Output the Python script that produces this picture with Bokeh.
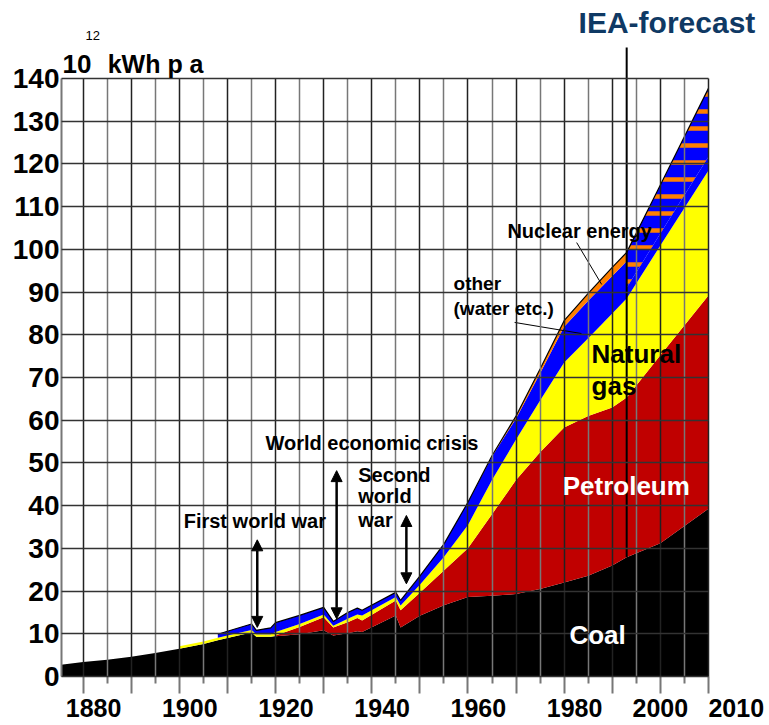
import numpy as np
from bokeh.plotting import figure
from bokeh.models import Range1d, FixedTicker, Label, Arrow, NormalHead
from bokeh.embed import file_html
from bokeh.resources import INLINE

# ---------------- data (10^12 kWh per year) ----------------
years = [1875, 1880, 1885, 1890, 1895, 1900, 1905, 1908, 1910, 1915, 1916, 1919,
         1920, 1925, 1930, 1932, 1935, 1937, 1938, 1945, 1946, 1950, 1955, 1960,
         1965, 1970, 1975, 1980, 1985, 1990, 1993, 2000, 2010]
coal = [2.7, 3.4, 3.9, 4.6, 5.5, 6.5, 7.6, 8.5, 9.0, 10.3, 9.3, 9.3,
        9.4, 9.9, 10.8, 9.6, 10.1, 10.6, 10.4, 14.3, 11.5, 14.2, 16.7, 18.6,
        18.9, 19.3, 20.5, 22.0, 23.6, 26.0, 27.9, 31.2, 39.3]
petroleum = [0, 0, 0, 0, 0, 0, 0, 0, 0, 0, 0, 0,
             0.2, 1.7, 3.1, 1.9, 2.6, 3.1, 2.7, 3.5, 4.0, 5.4, 8.1, 11.4,
             19.1, 26.7, 32.0, 36.3, 37.4, 37.0, 37.4, 44.0, 49.9]
natural_gas = [0, 0, 0, 0, 0, 0.6, 0.6, 0.6, 0.6, 0.6, 0.6, 0.6,
               0.8, 0.7, 0.6, 0.4, 0.8, 0.8, 1.2, 0.8, 1.1, 1.9, 3.2, 5.5,
               8.0, 9.5, 12.1, 15.2, 18.2, 22.0, 23.2, 25.7, 29.3]
# historical part (up to 1993)
other = [0, 0, 0, 0, 0, 0, 0, 0.8, 1.0, 1.4, 0.9, 1.5,
         2.2, 2.0, 1.7, 1.0, 1.5, 1.5, 1.2, 1.1, 1.2, 2.0, 3.0, 5.3,
         5.5, 4.9, 6.4, 8.4, 8.8, 8.8, 8.7]
nuclear = [0, 0, 0, 0, 0, 0, 0, 0, 0, 0, 0, 0,
           0, 0, 0, 0, 0, 0, 0, 0, 0, 0, 0, 0,
           0.2, 0.6, 1.0, 1.4, 1.7, 2.0, 2.1]
# IEA forecast part
forecast_years = [1993, 2000, 2010]
forecast_other = [2.5, 2.8, 3.2]
forecast_nuclear = [8.3, 11.4, 16.0]

gas_start, other_start, petroleum_start, nuclear_start = 1900, 1908, 1920, 1960
forecast_start = 1993

major_years = list(range(1880, 2011, 10))
minor_years = list(range(1885, 2010, 10))
labelled = [1880, 1900, 1920, 1940, 1960, 1980, 2000, 2010]
y_ticks = list(range(0, 141, 10))

FONT = "Liberation Sans"
C_COAL, C_PET, C_GAS, C_OTHER, C_NUC = "#000000", "#c00000", "#ffff00", "#0000ff", "#ff8000"

# ---------------- stacking ----------------
yr = np.array(years, dtype=float)
c0 = np.array(coal)
c1 = c0 + np.array(petroleum)
c2 = c1 + np.array(natural_gas)
nh = len(other)
hy = yr[:nh]
c3 = c2[:nh] + np.array(other)
c4 = c3 + np.array(nuclear)
fy = np.array(forecast_years, dtype=float)
fidx = [years.index(y) for y in forecast_years]
f2 = c2[fidx]
f3 = f2 + np.array(forecast_other)
f4 = f3 + np.array(forecast_nuclear)

X0, X1 = 1875.5, 2021.86
H = 724
p = figure(width=765, height=H, x_range=Range1d(X0, X1),
           y_range=Range1d(-(H - 676) / 4.271, 676 / 4.271),
           output_backend="svg", toolbar_location=None,
           min_border_left=61, min_border_right=0, min_border_top=0, min_border_bottom=0)
p.outline_line_color = None

# areas
p.varea(x=yr, y1=0, y2=c0, fill_color=C_COAL)
m = yr >= petroleum_start
p.varea(x=yr[m], y1=c0[m], y2=c1[m], fill_color=C_PET)
m = yr >= gas_start
p.varea(x=yr[m], y1=c1[m], y2=c2[m], fill_color=C_GAS)
m = hy >= other_start
p.varea(x=hy[m], y1=c2[:nh][m], y2=c3[m], fill_color=C_OTHER)
m = hy >= nuclear_start
p.varea(x=hy[m], y1=c3[m], y2=c4[m], fill_color=C_NUC)
p.varea(x=fy, y1=f2, y2=f3, fill_color=C_OTHER)
p.varea(x=fy, y1=f3, y2=f4, fill_color=C_OTHER, hatch_pattern="horizontal_line",
        hatch_color=C_NUC, hatch_weight=4.5, hatch_scale=17)

# outline of the total
m = hy >= other_start
p.line(x=list(hy[m]) + list(fy[1:]), y=list(c4[m]) + list(f4[1:]), line_color="black", line_width=1.2)

# forecast line
ci = years.index(forecast_start)
p.segment(x0=[forecast_start], y0=[c0[ci]], x1=[forecast_start], y1=[147.3],
          line_color="black", line_width=2)

# leader lines
p.segment(x0=[1982.6, 1969.7], y0=[101.6, 82.9], x1=[1987.8, 1983.6], y1=[91.8, 80.3],
          line_color="black", line_width=1)

# axes
nb = "\u00a0"
overrides = {}
for y in major_years:
    if y not in labelled:
        overrides[y] = ""
    elif y == 2010:
        overrides[y] = nb * 8 + str(y)
    elif y == 2000:
        overrides[y] = str(y)
    else:
        overrides[y] = nb * 3 + str(y)
xa = p.xaxis[0]
xa.fixed_location = 0
xa.ticker = FixedTicker(ticks=major_years, minor_ticks=minor_years)
xa.major_label_overrides = overrides
xa.major_label_text_font = FONT
xa.major_label_text_font_style = "bold"
xa.major_label_text_font_size = "25px"
xa.major_label_text_color = "black"
xa.major_label_standoff = 0
xa.major_tick_out = 17
xa.major_tick_in = 0
xa.minor_tick_out = 7
xa.minor_tick_in = 0
xa.major_tick_line_color = "#777777"
xa.minor_tick_line_color = "#777777"
xa.major_tick_line_width = 2
xa.minor_tick_line_width = 2
xa.axis_line_color = None

ya = p.yaxis[0]
ya.ticker = FixedTicker(ticks=y_ticks)
ya.bounds = (0, 140)
ya.major_label_text_font = FONT
ya.major_label_text_font_style = "bold"
ya.major_label_text_font_size = "28px"
ya.major_label_text_color = "black"
ya.major_label_standoff = 2
ya.major_tick_out = 0
ya.major_tick_in = 0
ya.minor_tick_line_color = None
ya.axis_line_color = "#777777"
ya.axis_line_width = 2

p.xgrid.grid_line_color = "#222222"
p.xgrid.grid_line_width = 1.5
p.xgrid.minor_grid_line_color = "#777777"
p.xgrid.minor_grid_line_width = 1.5
p.xgrid.cross_bounds = (0, 140)
p.ygrid.grid_line_color = "#333333"
p.ygrid.grid_line_width = 1.5
p.ygrid.cross_bounds = (X0, 2010)
p.xgrid.level = "guide"
p.ygrid.level = "guide"

def lab(x, y, text, size, color="black", bold=True, baseline="middle"):
    p.add_layout(Label(x=x, y=y, text=text, text_font=FONT, text_font_size=f"{size}px",
                       text_font_style="bold" if bold else "normal", text_color=color,
                       text_baseline=baseline, text_align="left"))

# unit label
lab(1875.7, 143.5, "10", 26, baseline="alphabetic")
lab(1880.5, 150.1, "12", 13, bold=False, baseline="alphabetic")
lab(1885.1, 143.5, "kWh p a", 25, baseline="alphabetic")
lab(1983.0, 153.2, "IEA-forecast", 30, color="#0f3964")

# event annotations
lab(1900.9, 36.5, "First world war", 20)
lab(1917.9, 54.6, "World economic crisis", 20)
lab(1937.2, 47.1, "Second", 20)
lab(1937.2, 42.3, "world", 20)
lab(1937.2, 36.6, "war", 20)
for x, y0, y1 in [(1916.2, 11.5, 32.0), (1932.7, 13.5, 48.2), (1947.2, 21.7, 37.7)]:
    p.add_layout(Arrow(start=NormalHead(size=11, fill_color="black", line_color="black"),
                       end=NormalHead(size=11, fill_color="black", line_color="black"),
                       x_start=x, y_start=y0, x_end=x, y_end=y1,
                       line_color="black", line_width=2.5))

# series labels
lab(1968.2, 104.2, "Nuclear energy", 20)
lab(1957.0, 92.0, "other", 19)
lab(1957.0, 86.2, "(water etc.)", 19)
lab(1985.7, 75.6, "Natural", 26)
lab(1985.7, 68.1, "gas", 26)
lab(1979.7, 44.7, "Petroleum", 26, color="white")
lab(1981.1, 9.8, "Coal", 26, color="white")

open("out.html", "w").write(file_html(p, INLINE))
